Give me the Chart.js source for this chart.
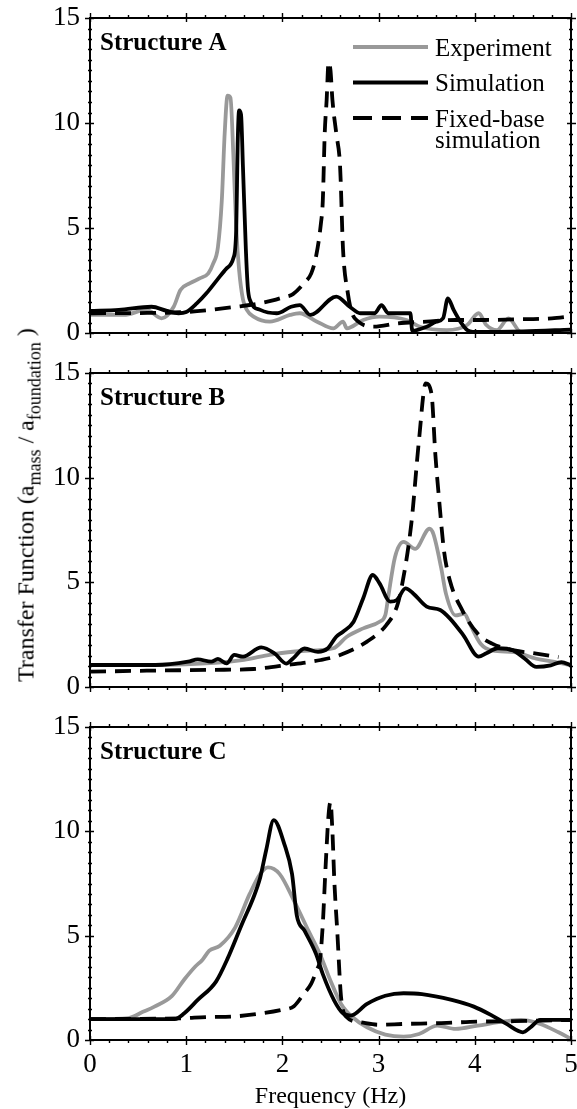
<!DOCTYPE html>
<html>
<head>
<meta charset="utf-8">
<script src="https://cdn.jsdelivr.net/npm/chart.js@4.4.1/dist/chart.umd.min.js"></script>
<style>
  html, body { margin: 0; padding: 0; background: #fff; }
  #wrap { position: relative; width: 577px; height: 1109px; overflow: hidden; }
  #wrap canvas { position: absolute; left: 0; top: 0; }
  #ytitle {
    position: absolute; left: 26px; top: 505px;
    transform: translate(-50%, -50%) rotate(-90deg);
    font: 24px "Liberation Serif", serif; color: #000; white-space: nowrap;
  }
  #ytitle sub { font-size: 18px; vertical-align: -7px; line-height: 0; }
</style>
</head>
<body>
<div id="wrap">
  <canvas id="chartA" width="577" height="1109"></canvas>
  <canvas id="chartB" width="577" height="1109"></canvas>
  <canvas id="chartC" width="577" height="1109"></canvas>
  <div id="ytitle">Transfer Function (a<sub>mass</sub> / a<sub>foundation</sub> )</div>
</div>
<script>
// Structure A
const freqAExp = [0, 0.35, 0.59, 0.745, 0.87, 0.94, 1.04, 1.14, 1.23, 1.28, 1.33, 1.37, 1.40, 1.43, 1.46, 1.49, 1.52, 1.55, 1.59, 1.63, 1.70, 1.87, 2.08, 2.18, 2.36, 2.53, 2.63, 2.67, 2.84, 3.01, 3.29, 3.43, 3.71, 3.92, 4.04, 4.12, 4.23, 4.35, 4.48, 4.7, 5];
const tfAExp = [0.86, 0.86, 1.1, 0.7, 1.25, 2.05, 2.37, 2.6, 2.84, 3.3, 4.1, 6.3, 9.5, 11.3, 11.2, 8.5, 5.0, 3.0, 1.6, 1.1, 0.78, 0.54, 0.86, 0.94, 0.54, 0.22, 0.54, 0.22, 0.62, 0.78, 0.62, 0.3, 0.14, 0.38, 0.94, 0.38, 0.14, 0.7, 0.05, 0.05, 0.1];
const freqASim = [0, 0.3, 0.64, 0.8, 0.92, 1.0, 1.11, 1.21, 1.32, 1.42, 1.49, 1.52, 1.535, 1.55, 1.57, 1.59, 1.62, 1.64, 1.66, 1.77, 1.94, 2.09, 2.18, 2.29, 2.56, 2.70, 2.81, 2.96, 3.03, 3.1, 3.33, 3.35, 3.5, 3.6, 3.67, 3.72, 3.78, 3.85, 3.92, 3.98, 4.5, 5];
const tfASim = [1.05, 1.1, 1.25, 1.05, 0.94, 1.0, 1.41, 1.89, 2.52, 3.08, 3.56, 4.9, 9.0, 10.6, 10.4, 7.9, 4.0, 2.2, 1.6, 1.1, 0.94, 1.25, 1.33, 0.86, 1.73, 1.25, 0.94, 0.94, 1.33, 0.94, 0.94, 0.1, 0.3, 0.54, 0.7, 1.65, 1.1, 0.54, 0.14, 0.05, 0.08, 0.16];
const freqAFix = [0, 0.5, 1.0, 1.25, 1.52, 1.73, 1.9, 2.01, 2.11, 2.23, 2.3, 2.35, 2.4, 2.42, 2.44, 2.46, 2.48, 2.5, 2.52, 2.56, 2.6, 2.63, 2.68, 2.72, 2.79, 2.95, 3.2, 3.5, 3.8, 4.1, 4.4, 4.8, 5];
const tfAFix = [0.94, 0.95, 1.0, 1.1, 1.25, 1.38, 1.55, 1.7, 1.85, 2.4, 2.84, 3.65, 5.2, 6.3, 9.5, 11.1, 12.9, 12.5, 11.1, 9.5, 7.9, 4.0, 1.9, 1.0, 0.54, 0.3, 0.46, 0.54, 0.62, 0.62, 0.65, 0.7, 0.8];

// Structure B
const freqBExp = [0, 0.68, 1.3, 1.6, 1.88, 2.2, 2.53, 2.67, 2.84, 3.01, 3.07, 3.1, 3.17, 3.26, 3.38, 3.53, 3.57, 3.65, 3.7, 3.8, 3.89, 3.95, 4.06, 4.18, 4.41, 4.64, 4.83, 5];
const tfBExp = [1.05, 1.05, 1.15, 1.3, 1.55, 1.72, 1.85, 2.4, 2.8, 3.12, 3.44, 4.3, 6.2, 6.93, 6.6, 7.56, 7.3, 5.7, 4.46, 3.42, 3.5, 3.0, 2.07, 1.75, 1.67, 1.35, 1.2, 1.03];
const freqBSim = [0, 0.68, 1.02, 1.12, 1.26, 1.33, 1.42, 1.5, 1.59, 1.78, 1.92, 2.04, 2.11, 2.23, 2.37, 2.47, 2.56, 2.63, 2.74, 2.84, 2.94, 3.01, 3.12, 3.19, 3.28, 3.36, 3.5, 3.64, 3.74, 3.88, 4.04, 4.12, 4.24, 4.4, 4.52, 4.64, 4.79, 4.9, 5];
const tfBSim = [1.05, 1.05, 1.21, 1.32, 1.21, 1.34, 1.13, 1.53, 1.45, 1.89, 1.6, 1.12, 1.36, 1.84, 1.68, 1.84, 2.4, 2.64, 3.12, 4.24, 5.35, 4.95, 4.08, 4.16, 4.71, 4.47, 3.84, 3.68, 3.28, 2.48, 1.45, 1.61, 1.85, 1.74, 1.35, 0.96, 1.03, 1.19, 1.03];
const freqBFix = [0, 0.59, 1.28, 1.7, 2.05, 2.4, 2.6, 2.88, 3.08, 3.19, 3.24, 3.34, 3.42, 3.49, 3.55, 3.59, 3.63, 3.68, 3.74, 3.87, 4.03, 4.18, 4.41, 4.64, 4.87];
const tfBFix = [0.73, 0.78, 0.82, 0.86, 1.05, 1.29, 1.53, 2.17, 2.96, 3.84, 4.78, 7.8, 11.8, 14.5, 14.0, 11.1, 8.9, 6.5, 5.1, 3.66, 2.55, 2.07, 1.75, 1.6, 1.43];

// Structure C
const freqCExp = [0, 0.4, 0.55, 0.67, 0.85, 0.98, 1.09, 1.17, 1.24, 1.35, 1.51, 1.66, 1.77, 1.85, 1.97, 2.12, 2.27, 2.39, 2.5, 2.61, 2.73, 2.88, 3.07, 3.26, 3.42, 3.61, 3.8, 4.03, 4.33, 4.48, 4.68, 4.87, 5];
const tfCExp = [1.0, 1.05, 1.35, 1.6, 2.1, 2.9, 3.5, 3.85, 4.28, 4.52, 5.4, 7.0, 7.96, 8.27, 7.96, 6.68, 5.24, 4.12, 2.84, 1.73, 1.09, 0.61, 0.26, 0.16, 0.29, 0.69, 0.53, 0.69, 0.9, 0.96, 0.77, 0.37, 0.05];
const freqCSim = [0, 0.88, 0.98, 1.12, 1.31, 1.43, 1.58, 1.7, 1.77, 1.83, 1.91, 2.02, 2.1, 2.15, 2.23, 2.35, 2.42, 2.54, 2.63, 2.71, 2.88, 3.07, 3.26, 3.45, 3.76, 3.99, 4.18, 4.33, 4.5, 4.58, 4.68, 5];
const tfCSim = [1.0, 1.0, 1.28, 1.92, 2.8, 3.9, 5.56, 6.84, 7.8, 9.07, 10.54, 9.39, 7.96, 5.96, 5.24, 4.12, 3.16, 1.88, 1.28, 1.17, 1.73, 2.12, 2.24, 2.2, 1.92, 1.6, 1.17, 0.77, 0.37, 0.61, 0.96, 0.96];
const freqCFix = [0, 0.93, 1.22, 1.5, 1.74, 2.0, 2.12, 2.22, 2.3, 2.36, 2.39, 2.42, 2.45, 2.48, 2.5, 2.52, 2.54, 2.57, 2.61, 2.67, 2.81, 3.0, 3.26, 3.65, 4.03, 4.41, 4.71, 5];
const tfCFix = [1.0, 1.04, 1.1, 1.13, 1.25, 1.45, 1.62, 2.2, 2.7, 3.4, 3.8, 5.56, 8.4, 10.8, 11.4, 10.0, 7.6, 5.24, 2.04, 1.09, 0.85, 0.73, 0.77, 0.81, 0.88, 0.9, 0.93, 0.96];

const seriesNames = ['Experiment', 'Simulation', 'Fixed-base\nsimulation'];
const xTicks = [0, 1, 2, 3, 4, 5];
const yTicks = [0, 5, 10, 15];

const FONT = '"Liberation Serif", serif';
const GRAY = '#999999';

function pts(xs, ys) {
  return xs.map((x, i) => ({ x: x, y: ys[i] }));
}

// frame, ticks on all four sides, panel label and (optionally) the legend
const panelDecor = {
  id: 'panelDecor',
  afterDraw(chart, args, opts) {
    const { ctx, chartArea: a, scales: { x, y } } = chart;
    ctx.save();
    ctx.strokeStyle = '#000';
    ctx.lineWidth = 2;
    ctx.strokeRect(a.left, a.top, a.right - a.left, a.bottom - a.top);

    ctx.lineWidth = 1.4;
    ctx.beginPath();
    for (let i = 0; i <= 25; i++) {
      const px = Math.round(x.getPixelForValue(i / 5)) + 0.5;
      const major = i % 5 === 0;
      const out = major ? 5 : 3, inn = major ? 4 : 0;
      ctx.moveTo(px, a.bottom - inn); ctx.lineTo(px, a.bottom + out);
      ctx.moveTo(px, a.top + inn); ctx.lineTo(px, a.top - out);
    }
    for (let i = 0; i <= 30; i++) {
      const py = Math.round(y.getPixelForValue(i / 2)) + 0.5;
      const major = i % 10 === 0;
      const out = major ? 5 : 2, inn = major ? 4 : 2;
      ctx.moveTo(a.left - out, py); ctx.lineTo(a.left + inn, py);
      ctx.moveTo(a.right + out, py); ctx.lineTo(a.right - inn, py);
    }
    ctx.stroke();

    ctx.fillStyle = '#000';
    ctx.textBaseline = 'alphabetic';
    ctx.textAlign = 'left';
    ctx.font = 'bold 25px ' + FONT;
    ctx.fillText(opts.label, a.left + 10, a.top + 32);

    if (opts.legend) {
      ctx.font = '25px ' + FONT;
      const order = [0, 1, 2];
      order.forEach((di, k) => {
        const ds = chart.data.datasets[di];
        const ly = a.top + 29 + k * 35.5;
        ctx.save();
        ctx.strokeStyle = ds.borderColor;
        ctx.lineWidth = ds.borderWidth;
        ctx.setLineDash(ds.borderDash && ds.borderDash.length ? [19, 10] : []);
        ctx.beginPath();
        ctx.moveTo(a.left + 263, ly);
        ctx.lineTo(a.left + 338, ly);
        ctx.stroke();
        ctx.restore();
        ds.label.split('\n').forEach((t, j) => {
          ctx.fillText(t, a.left + 345, ly + 8.5 + j * 21);
        });
      });
    }
    ctx.restore();
  }
};

function makeChart(id, label, data, box, showX, legend) {
  const datasets = [
    { label: seriesNames[0], data: pts(data[0], data[1]), borderColor: GRAY, borderWidth: 3.8, order: 3 },
    { label: seriesNames[1], data: pts(data[2], data[3]), borderColor: '#000', borderWidth: 3.8, order: 2 },
    { label: seriesNames[2], data: pts(data[4], data[5]), borderColor: '#000', borderWidth: 3.8, borderDash: [16, 9], order: 1 }
  ];
  datasets.forEach(d => {
    d.pointRadius = 0;
    d.fill = false;
    d.cubicInterpolationMode = 'monotone';
    d.borderJoinStyle = 'round';
  });

  return new Chart(document.getElementById(id), {
    type: 'line',
    data: { datasets: datasets },
    options: {
      responsive: false,
      animation: false,
      devicePixelRatio: 1,
      events: [],
      layout: { padding: { left: 0, right: 577 - box.right, top: box.top, bottom: showX ? 0 : 1109 - box.bottom } },
      plugins: {
        legend: { display: false },
        tooltip: { enabled: false },
        panelDecor: { label: label, legend: legend }
      },
      scales: {
        x: {
          type: 'linear', min: 0, max: 5,
          display: showX,
          afterBuildTicks: s => { s.ticks = xTicks.map(v => ({ value: v })); },
          afterFit: s => { s.height = showX ? 1109 - box.bottom : 0; s.paddingLeft = 0; s.paddingRight = 0; },
          grid: { display: false, drawTicks: false },
          border: { display: false },
          ticks: { color: '#000', font: { family: FONT, size: 27 }, padding: 9, maxRotation: 0 },
          title: { display: true, text: 'Frequency (Hz)', color: '#000', font: { family: FONT, size: 24, lineHeight: 1 }, padding: 0 }
        },
        y: {
          type: 'linear', min: 0, max: 15,
          afterBuildTicks: s => { s.ticks = yTicks.map(v => ({ value: v })); },
          afterFit: s => { s.width = box.left; s.paddingTop = 0; s.paddingBottom = 0; },
          grid: { display: false, drawTicks: false },
          border: { display: false },
          ticks: { color: '#000', font: { family: FONT, size: 27 }, padding: 10 }
        }
      }
    },
    plugins: [panelDecor]
  });
}

makeChart('chartA', 'Structure A', [freqAExp, tfAExp, freqASim, tfASim, freqAFix, tfAFix],
  { left: 90, right: 571, top: 18, bottom: 333 }, false, true);
makeChart('chartB', 'Structure B', [freqBExp, tfBExp, freqBSim, tfBSim, freqBFix, tfBFix],
  { left: 90, right: 571, top: 373, bottom: 687 }, false, false);
makeChart('chartC', 'Structure C', [freqCExp, tfCExp, freqCSim, tfCSim, freqCFix, tfCFix],
  { left: 90, right: 571, top: 727, bottom: 1040 }, true, false);
</script>
</body>
</html>
